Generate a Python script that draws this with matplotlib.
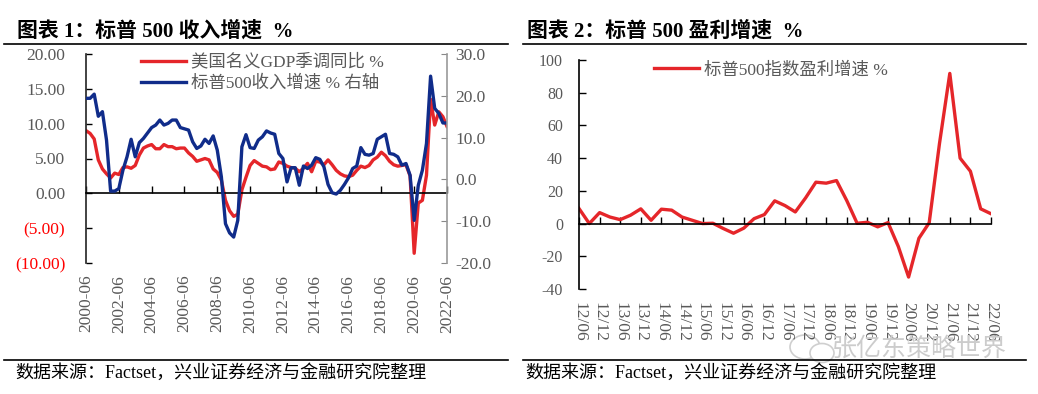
import matplotlib
matplotlib.use('Agg')
import matplotlib.pyplot as plt
from matplotlib.lines import Line2D
from matplotlib.patches import Ellipse

plt.rcParams['font.family'] = ['Liberation Serif', 'Noto Sans CJK SC']
plt.rcParams['axes.unicode_minus'] = False

# ---------------- data ----------------
left_tick_labels = ['2000-06', '2002-06', '2004-06', '2006-06', '2008-06', '2010-06',
                    '2012-06', '2014-06', '2016-06', '2018-06', '2020-06', '2022-06']

# US nominal GDP yoy (%), quarterly 2000-06 .. 2022-06 (left axis)
gdp_yoy = [9.0, 8.6, 7.8, 4.8, 3.5, 2.8, 2.2, 2.9, 2.7,
           3.7, 3.8, 3.6, 4.0, 5.5, 6.5, 6.8, 7.0,
           6.4, 6.4, 7.0, 6.7, 6.7, 6.4, 6.5, 6.5,
           5.8, 5.3, 4.6, 4.8, 5.0, 4.8, 3.5, 3.0,
           1.9, -1.0, -2.5, -3.3, -3.0, 0.5, 2.3, 4.0,
           4.7, 4.3, 3.9, 3.8, 3.4, 3.5, 4.5, 4.3,
           3.9, 3.7, 3.6, 3.1, 3.6, 4.3, 3.1, 4.6,
           4.5, 4.1, 4.8, 4.1, 3.3, 2.8, 2.5, 2.4,
           2.6, 3.3, 3.9, 3.7, 4.0, 4.8, 5.2, 5.9,
           5.4, 4.6, 4.1, 3.9, 4.0, 4.1, 2.5, -8.6,
           -1.4, -1.0, 2.6, 13.5, 9.8, 11.7, 11.0, 9.6]

# S&P 500 revenue growth (%), right axis
rev_yoy = [19.4, 19.4, 20.4, 15.1, 16.2, 9.4, -2.8, -2.8, -2.2,
           2.2, 5.4, 9.6, 5.4, 8.8, 9.8, 11.1, 12.4,
           13.0, 14.2, 13.0, 13.4, 14.2, 14.2, 12.4, 12.1,
           11.8, 9.0, 7.4, 8.0, 9.6, 8.6, 10.4, 7.0,
           0.6, -10.6, -12.8, -13.8, -9.8, 7.8, 10.7, 7.6,
           7.4, 9.4, 10.2, 11.6, 11.1, 10.8, 6.2, 5.0,
           -0.6, 2.8, 2.8, -1.4, 3.2, 2.6, 3.4, 5.2,
           4.8, 3.0, -1.2, -3.2, -3.5, -2.6, -1.2, 0.4,
           2.6, 3.2, 7.6, 6.0, 5.8, 6.2, 9.6, 10.2,
           10.8, 6.2, 6.0, 5.4, 3.4, 3.8, 1.0, -9.8,
           -1.4, 2.2, 8.6, 24.7, 17.0, 15.8, 13.5, 13.5]

left_yticks = [-10, -5, 0, 5, 10, 15, 20]
right_yticks = [-20, -10, 0, 10, 20, 30]

earn_tick_labels = ['12/06', '12/12', '13/06', '13/12', '14/06', '14/12', '15/06',
                    '15/12', '16/06', '16/12', '17/06', '17/12', '18/06', '18/12',
                    '19/06', '19/12', '20/06', '20/12', '21/06', '21/12', '22/06']

# S&P 500 earnings growth (%), quarterly 2012-06 .. 2022-06
earn_yoy = [9.2, 0.0, 6.7, 4.0, 2.4, 5.1, 9.0, 2.0, 8.8, 8.2,
            4.0, 2.0, 0.0, 0.2, -3.0, -5.9, -2.8, 3.0, 5.5, 13.9,
            11.0, 7.1, 15.7, 25.3, 24.7, 26.3, 14.0, 0.2, 0.8, -2.0,
            0.6, -14.0, -32.7, -9.0, 0.5, 49.0, 91.8, 40.0, 32.0, 9.0,
            6.0]
earn_yticks = [-40, -20, 0, 20, 40, 60, 80, 100]

# ---------------- style ----------------
RED = '#E5262A'
BLUE = '#102C8A'
GRAY = '#595959'
W, H = 1038, 394


def fx(px):
    return px / W


def fy(py):
    return 1 - py / H


fig = plt.figure(figsize=(W / 100, H / 100), dpi=100)

# watermark (behind everything)
fig.text(fx(832), fy(349), '张亿东策略世界', fontsize=18, color='#cccccc',
         family=['Noto Sans CJK SC'], va='center', ha='left', zorder=0)
fig.add_artist(Ellipse((fx(805), fy(347)), fx(30), 24 / H, transform=fig.transFigure,
                       facecolor='none', edgecolor='#cfcfcf', lw=1.2, zorder=0))
fig.add_artist(Ellipse((fx(822), fy(353)), fx(24), 19 / H, transform=fig.transFigure,
                       facecolor='white', edgecolor='#cfcfcf', lw=1.2, zorder=0))

# ---------------- left chart ----------------
ax1 = fig.add_axes([fx(86), fy(263), fx(447) - fx(86), fy(54) - fy(263)])
ax1.patch.set_alpha(0)
xq = list(range(len(gdp_yoy)))
ax1.plot(xq, gdp_yoy, color=RED, lw=2.4, solid_joinstyle='round')
ax1.set_xlim(0, len(gdp_yoy) - 1)
ax1.set_ylim(-10, 20)
ax1.set_yticks(left_yticks)
ylab = []
for v in left_yticks:
    ylab.append('(%.2f)' % abs(v) if v < 0 else '%.2f' % v)
ax1.set_yticklabels(ylab)
for t, v in zip(ax1.get_yticklabels(), left_yticks):
    t.set_color('red' if v < 0 else GRAY)
ax1.tick_params(axis='y', direction='in', length=4, pad=15, labelsize=12.5, width=1)
for s in ['top', 'right']:
    ax1.spines[s].set_visible(False)
ax1.spines['bottom'].set_position(('data', 0))
ax1.spines['left'].set_color('#222222')
ax1.spines['left'].set_linewidth(1.2)
ax1.spines['bottom'].set_linewidth(1.2)
xt = list(range(0, len(gdp_yoy), 8))
ax1.set_xticks(xt)
ax1.tick_params(axis='x', direction='in', length=5, labelbottom=False, width=1)
sec = ax1.secondary_xaxis(0)
sec.set_xticks(xt)
sec.set_xticklabels(left_tick_labels, rotation=90)
sec.tick_params(length=0, pad=8.5, labelsize=12.5, labelcolor=GRAY)
sec.spines['bottom'].set_visible(False)

ax2 = ax1.twinx()
ax2.plot(xq, rev_yoy, color=BLUE, lw=2.4, solid_joinstyle='round')
ax2.set_ylim(-20, 30)
ax2.set_yticks(right_yticks)
ax2.set_yticklabels(['%.1f' % v for v in right_yticks])
ax2.tick_params(axis='y', direction='in', length=4, pad=6, labelsize=12.5, labelcolor=GRAY, color='#888888')
for s in ['top', 'left', 'bottom']:
    ax2.spines[s].set_visible(False)
ax2.spines['right'].set_color('#999999')
ax2.spines['right'].set_linewidth(1.2)

handles = [Line2D([], [], color=RED, lw=2.4), Line2D([], [], color=BLUE, lw=2.4)]
leg = ax2.legend(handles, ['美国名义GDP季调同比 %', '标普500收入增速 % 右轴'],
                 loc='upper left', bbox_to_anchor=(fx(141), fy(54)), bbox_transform=fig.transFigure,
                 frameon=False, fontsize=12.5, handlelength=2.6, handletextpad=0.3,
                 labelspacing=0.25, borderpad=0, borderaxespad=0)
for t in leg.get_texts():
    t.set_color(GRAY)

# ---------------- right chart ----------------
ax3 = fig.add_axes([fx(579), fy(289), fx(991) - fx(579), fy(60) - fy(289)])
ax3.patch.set_alpha(0)
xe = list(range(len(earn_yoy)))
ax3.plot(xe, earn_yoy, color=RED, lw=2.4, solid_joinstyle='round')
ax3.set_xlim(0, len(earn_yoy) - 1)
ax3.set_ylim(-40, 100)
ax3.set_yticks(earn_yticks)
ax3.set_yticklabels([str(v) for v in earn_yticks])
ax3.tick_params(axis='y', direction='in', length=5, pad=11.5, labelsize=11.5, labelcolor=GRAY, width=1)
for s in ['top', 'right']:
    ax3.spines[s].set_visible(False)
ax3.spines['bottom'].set_position(('data', 0))
ax3.spines['left'].set_linewidth(1.2)
ax3.spines['bottom'].set_linewidth(1.2)
xt3 = list(range(0, len(earn_yoy), 2))
ax3.set_xticks(xt3)
ax3.tick_params(axis='x', direction='in', length=5, labelbottom=False, width=1)
sec3 = ax3.secondary_xaxis(0)
sec3.set_xticks(xt3)
sec3.set_xticklabels(earn_tick_labels, rotation=-90)
sec3.tick_params(length=0, pad=9.5, labelsize=12.5, labelcolor=GRAY)
sec3.spines['bottom'].set_visible(False)

leg3 = ax3.legend([Line2D([], [], color=RED, lw=2.4)], ['标普500指数盈利增速 %'],
                  loc='upper left', bbox_to_anchor=(fx(654), fy(62)), bbox_transform=fig.transFigure,
                  frameon=False, fontsize=12.5, handlelength=2.6, handletextpad=0.3,
                  borderpad=0, borderaxespad=0)
for t in leg3.get_texts():
    t.set_color(GRAY)

# ---------------- titles, rules, footers ----------------
fig.text(fx(17), fy(37), '图表 1：标普 500 收入增速  %', fontsize=15, fontweight='bold',
         va='baseline', ha='left')
fig.text(fx(527), fy(37), '图表 2：标普 500 盈利增速  %', fontsize=15, fontweight='bold',
         va='baseline', ha='left')
for x0, x1 in [(4, 508), (523, 1026)]:
    fig.add_artist(Line2D([fx(x0), fx(x1)], [fy(43.5), fy(43.5)], color='black', lw=1.2,
                          transform=fig.transFigure))
    fig.add_artist(Line2D([fx(x0), fx(x1)], [fy(360), fy(360)], color='black', lw=1.2,
                          transform=fig.transFigure))
fig.text(fx(15), fy(373), '数据来源：Factset，兴业证券经济与金融研究院整理', fontsize=13,
         va='center', ha='left')
fig.text(fx(525), fy(373), '数据来源：Factset，兴业证券经济与金融研究院整理', fontsize=13,
         va='center', ha='left')

fig.savefig('out.png', dpi=100)
